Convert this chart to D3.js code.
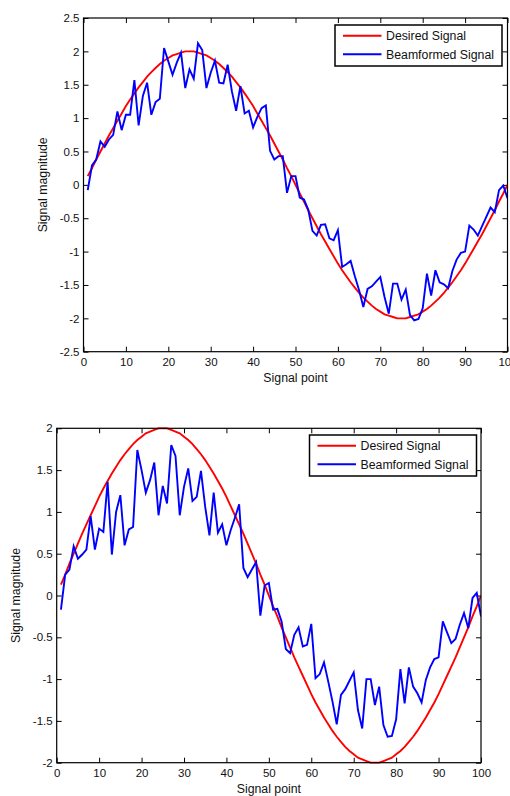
<!DOCTYPE html>
<html>
<head>
<meta charset="utf-8">
<script src="https://cdn.jsdelivr.net/npm/d3@7"></script>
<style>
  body { margin: 0; background: #fff; }
  svg { display: block; font-family: "Liberation Sans", Arial, sans-serif; }
</style>
</head>
<body>
<script>
// signal point index on the x axis
const signalPoints = d3.range(1, 101);

const desiredSignal = [
  0.13, 0.25, 0.38, 0.50, 0.62, 0.74, 0.85, 0.96, 1.07, 1.18,
  1.28, 1.37, 1.46, 1.54, 1.62, 1.69, 1.75, 1.81, 1.86, 1.90,
  1.94, 1.96, 1.98, 2.00, 2.00, 2.00, 1.98, 1.96, 1.94, 1.90,
  1.86, 1.81, 1.75, 1.69, 1.62, 1.54, 1.46, 1.37, 1.28, 1.18,
  1.07, 0.96, 0.85, 0.74, 0.62, 0.50, 0.38, 0.25, 0.13, 0.00,
  -0.13, -0.25, -0.38, -0.50, -0.62, -0.74, -0.85, -0.96, -1.07, -1.18,
  -1.28, -1.37, -1.46, -1.54, -1.62, -1.69, -1.75, -1.81, -1.86, -1.90,
  -1.94, -1.96, -1.98, -2.00, -2.00, -2.00, -1.98, -1.96, -1.94, -1.90,
  -1.86, -1.81, -1.75, -1.69, -1.62, -1.54, -1.46, -1.37, -1.28, -1.18,
  -1.07, -0.96, -0.85, -0.74, -0.62, -0.50, -0.38, -0.25, -0.13, 0.00
];

const beamformedTop = [
  -0.08, 0.29, 0.38, 0.65, 0.57, 0.68, 0.75, 1.10, 0.82, 1.05,
  1.05, 1.57, 0.89, 1.33, 1.53, 1.05, 1.24, 1.29, 2.05, 1.85,
  1.65, 1.83, 1.98, 1.45, 1.73, 1.59, 2.12, 2.02, 1.45, 1.68,
  1.86, 1.53, 1.52, 1.80, 1.40, 1.11, 1.48, 1.07, 1.11, 0.86,
  1.02, 1.15, 1.19, 0.51, 0.38, 0.43, 0.43, -0.12, 0.13, 0.13,
  -0.19, -0.22, -0.37, -0.69, -0.76, -0.60, -0.59, -0.80, -0.83, -0.68,
  -1.23, -1.19, -1.14, -1.37, -1.58, -1.83, -1.56, -1.52, -1.45, -1.38,
  -1.68, -1.93, -1.48, -1.48, -1.72, -1.57, -1.95, -2.03, -2.01, -1.85,
  -1.33, -1.66, -1.28, -1.46, -1.49, -1.55, -1.29, -1.12, -1.02, -1.00,
  -0.61, -0.67, -0.76, -0.62, -0.48, -0.34, -0.41, -0.08, -0.01, -0.20
];

const beamformedBottom = [
  -0.17, 0.25, 0.31, 0.59, 0.44, 0.49, 0.55, 0.95, 0.55, 0.80,
  0.76, 1.36, 0.49, 1.00, 1.20, 0.60, 0.79, 0.82, 1.74, 1.50,
  1.23, 1.38, 1.59, 0.96, 1.31, 1.10, 1.80, 1.67, 0.96, 1.30,
  1.52, 1.13, 1.18, 1.49, 1.06, 0.72, 1.23, 0.75, 0.85, 0.60,
  0.78, 0.93, 1.09, 0.33, 0.22, 0.31, 0.40, -0.24, 0.12, 0.15,
  -0.17, -0.16, -0.31, -0.64, -0.69, -0.47, -0.38, -0.61, -0.59, -0.34,
  -0.99, -0.94, -0.80, -1.03, -1.27, -1.54, -1.19, -1.12, -1.02, -0.92,
  -1.37, -1.59, -1.00, -1.00, -1.31, -1.09, -1.55, -1.69, -1.68, -1.48,
  -0.88, -1.29, -0.86, -1.09, -1.17, -1.28, -1.01, -0.86, -0.76, -0.74,
  -0.31, -0.44, -0.57, -0.52, -0.35, -0.21, -0.39, -0.03, 0.03, -0.25
];

const xTicks = [0, 10, 20, 30, 40, 50, 60, 70, 80, 90, 100];
const yTicksTop = [-2.5, -2, -1.5, -1, -0.5, 0, 0.5, 1, 1.5, 2, 2.5];
const yTicksBottom = [-2, -1.5, -1, -0.5, 0, 0.5, 1, 1.5, 2];

const legendNames = ["Desired Signal", "Beamformed Signal"];
const legendColors = ["#ff0000", "#0000ff"];

const w = 510, h = 796;
const tickFont = 11.5, labelFont = 12.3;

const svg = d3.select("body").append("svg")
  .attr("width", w)
  .attr("height", h);

function drawPanel(p) {
  const x_scale = d3.scaleLinear().domain([0, 100]).range([p.left, p.left + p.width]);
  const y_scale = d3.scaleLinear().domain(p.yDomain).range([p.top + p.height, p.top]);

  const g = svg.append("g");

  // MATLAB style: ticks point inside, on all four sides
  const axes = [
    [d3.axisBottom(x_scale).tickValues(xTicks).tickFormat(d => String(d)), `translate(0,${p.top + p.height})`, true],
    [d3.axisTop(x_scale).tickValues(xTicks).tickFormat(""), `translate(0,${p.top})`, false],
    [d3.axisLeft(y_scale).tickValues(p.yTicks).tickFormat(d => String(d)), `translate(${p.left},0)`, true],
    [d3.axisRight(y_scale).tickValues(p.yTicks).tickFormat(""), `translate(${p.left + p.width},0)`, false]
  ];
  axes.forEach(([ax, tr, labelled], i) => {
    ax.tickSizeInner(-5).tickSizeOuter(0).tickPadding(i === 0 ? 6.3 : 4);
    const a = g.append("g").attr("transform", tr).call(ax);
    a.select(".domain").remove();
    a.selectAll("line").attr("stroke", "#000");
    a.selectAll("text")
      .attr("fill", "#111")
      .style("font-size", tickFont + "px")
      .style("font-family", "'Liberation Sans', Arial, sans-serif");
  });

  const clipId = "clip" + p.id;
  g.append("clipPath").attr("id", clipId)
    .append("rect")
    .attr("x", p.left).attr("y", p.top - 1)
    .attr("width", p.width).attr("height", p.height + 2);

  const line = d3.line()
    .x((d, i) => x_scale(signalPoints[i]))
    .y(d => y_scale(d));

  g.append("path")
    .datum(desiredSignal)
    .attr("d", line)
    .attr("fill", "none")
    .attr("stroke", legendColors[0])
    .attr("stroke-width", 1.9)
    .attr("clip-path", `url(#${clipId})`);

  g.append("path")
    .datum(p.beam)
    .attr("d", line)
    .attr("fill", "none")
    .attr("stroke", legendColors[1])
    .attr("stroke-width", 1.9)
    .attr("stroke-linejoin", "miter")
    .attr("clip-path", `url(#${clipId})`);

  // box around the axes
  g.append("rect")
    .attr("x", p.left).attr("y", p.top)
    .attr("width", p.width).attr("height", p.height)
    .attr("fill", "none")
    .attr("stroke", "#000")
    .attr("stroke-width", 1.2);

  g.append("text")
    .attr("x", p.left + p.width / 2)
    .attr("y", p.top + p.height + 30)
    .attr("text-anchor", "middle")
    .attr("fill", "#111")
    .style("font-size", labelFont + "px")
    .text("Signal point");

  g.append("text")
    .attr("transform", `translate(${p.yLabelX},${p.top + p.height / 2}) rotate(-90)`)
    .attr("text-anchor", "middle")
    .attr("fill", "#111")
    .style("font-size", labelFont + "px")
    .text("Signal magnitude");

  // legend
  const legend = g.append("g").attr("transform", `translate(${p.legendX},${p.legendY})`);
  legend.append("rect")
    .attr("width", 167).attr("height", 41)
    .attr("fill", "#fff")
    .attr("stroke", "#000")
    .attr("stroke-width", 1.5);
  legendNames.forEach((name, i) => {
    legend.append("line")
      .attr("x1", 8).attr("x2", 46.5)
      .attr("y1", 10.7 + i * 18.6).attr("y2", 10.7 + i * 18.6)
      .attr("stroke", legendColors[i])
      .attr("stroke-width", 1.9);
    legend.append("text")
      .attr("x", 51)
      .attr("y", 15 + i * 18.6)
      .attr("fill", "#111")
      .style("font-size", labelFont + "px")
      .text(name);
  });
}

drawPanel({
  id: "top", left: 83.5, top: 18, width: 424, height: 333.7,
  yDomain: [-2.5, 2.5], yTicks: yTicksTop, beam: beamformedTop,
  yLabelX: 46.5, legendX: 335, legendY: 25
});

drawPanel({
  id: "bottom", left: 56.7, top: 428.3, width: 424.3, height: 334.4,
  yDomain: [-2, 2], yTicks: yTicksBottom, beam: beamformedBottom,
  yLabelX: 20, legendX: 309.5, legendY: 435
});
</script>
</body>
</html>
